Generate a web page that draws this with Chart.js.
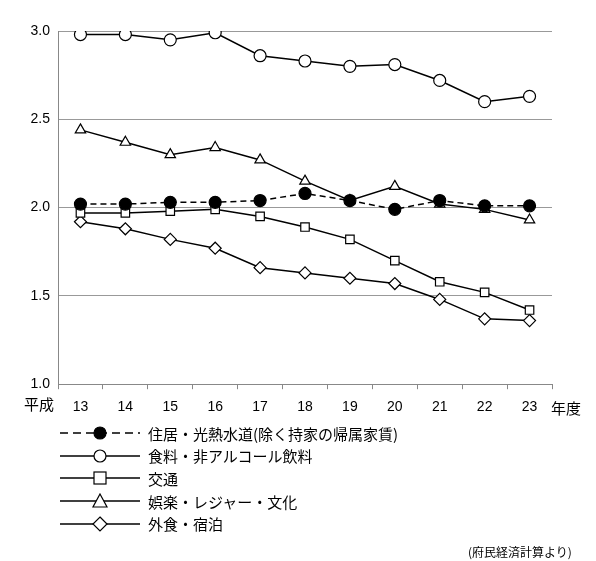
<!DOCTYPE html>
<html>
<head>
<meta charset="utf-8">
<script src="https://cdn.jsdelivr.net/npm/chart.js"></script>
<style>
  body { margin: 0; background: #fff; font-family: "Noto Sans CJK JP", sans-serif; }
  #wrap { position: relative; width: 596px; height: 561px; }
  #legend { position: absolute; left: 60px; top: 422px; font-size: 15px; color: #000; }
  #legend div { height: 22.6px; display: flex; align-items: center; }
  #legend svg { margin-right: 8px; }
  .lab { position: absolute; font-size: 15px; color: #000; }
</style>
</head>
<body>
<div id="wrap">
  <canvas id="c" width="596" height="561"></canvas>
  <div class="lab" style="left:24px;top:393px;">平成</div>
  <div class="lab" style="left:551px;top:397px;">年度</div>
  <div id="legend"></div>
  <div class="lab" style="left:468px;top:543px;font-size:12px;">(府民経済計算より)</div>
</div>
<script>
  // data
  var years = ['13', '14', '15', '16', '17', '18', '19', '20', '21', '22', '23'];
  var housing = [2.02, 2.02, 2.03, 2.03, 2.04, 2.08, 2.04, 1.99, 2.04, 2.01, 2.01];
  var food = [2.98, 2.98, 2.95, 2.99, 2.86, 2.83, 2.80, 2.81, 2.72, 2.60, 2.63];
  var transport = [1.97, 1.97, 1.98, 1.99, 1.95, 1.89, 1.82, 1.70, 1.58, 1.52, 1.42];
  var leisure = [2.44, 2.37, 2.30, 2.34, 2.27, 2.15, 2.04, 2.12, 2.02, 1.99, 1.93];
  var eatingOut = [1.92, 1.88, 1.82, 1.77, 1.66, 1.63, 1.60, 1.57, 1.48, 1.37, 1.36];
  var yTicks = [1.0, 1.5, 2.0, 2.5, 3.0];

  var series = [
    { label: '住居・光熱水道(除く持家の帰属家賃)', data: housing, style: 'circle', fill: '#000', dash: [6, 4] },
    { label: '食料・非アルコール飲料', data: food, style: 'circle', fill: '#fff', dash: [] },
    { label: '交通', data: transport, style: 'rect', fill: '#fff', dash: [] },
    { label: '娯楽・レジャー・文化', data: leisure, style: 'triangle', fill: '#fff', dash: [] },
    { label: '外食・宿泊', data: eatingOut, style: 'rectRot', fill: '#fff', dash: [] }
  ];

  new Chart(document.getElementById('c'), {
    type: 'line',
    data: {
      labels: years,
      datasets: series.map(function (s) {
        return {
          label: s.label, data: s.data,
          borderColor: '#000', borderWidth: 1.5, borderDash: s.dash,
          pointStyle: s.style, pointRadius: 6,
          pointBackgroundColor: s.fill, pointBorderColor: '#000', pointBorderWidth: 1.2,
          tension: 0
        };
      })
    },
    options: {
      responsive: false, animation: false,
      layout: { padding: { left: 14, right: 44, top: 31, bottom: 135 } },
      plugins: { legend: { display: false }, tooltip: { enabled: false } },
      scales: {
        x: {
          offset: true,
          grid: { display: true, drawOnChartArea: false, drawTicks: true, tickLength: 5, color: '#888', offset: true },
          border: { color: '#888' },
          ticks: { color: '#000', font: { size: 14 }, padding: 10 }
        },
        y: {
          min: 1.0, max: 3.0,
          afterBuildTicks: function (a) { a.ticks = yTicks.map(function (v) { return { value: v }; }); },
          afterFit: function (a) { a.width = 44; },
          grid: { color: '#999', drawTicks: false },
          border: { color: '#888' },
          ticks: { color: '#000', font: { size: 14 }, padding: 8, callback: function (v) { return v.toFixed(1); } }
        }
      }
    }
  });

  var shapes = {
    circle: function (f) { return '<circle cx="40" cy="8" r="6" fill="' + f + '" stroke="#000" stroke-width="1.2"/>'; },
    rect: function (f) { return '<rect x="34" y="2" width="12" height="12" fill="' + f + '" stroke="#000" stroke-width="1.2"/>'; },
    triangle: function (f) { return '<polygon points="40,1 47,14 33,14" fill="' + f + '" stroke="#000" stroke-width="1.2"/>'; },
    rectRot: function (f) { return '<polygon points="40,1 47,8 40,15 33,8" fill="' + f + '" stroke="#000" stroke-width="1.2"/>'; }
  };
  var html = '';
  series.forEach(function (s) {
    html += '<div><svg width="80" height="16"><line x1="0" y1="8" x2="80" y2="8" stroke="#000" stroke-width="1.5"' +
      (s.dash.length ? ' stroke-dasharray="8,5"' : '') + '/>' + shapes[s.style](s.fill) + '</svg>' + s.label + '</div>';
  });
  document.getElementById('legend').innerHTML = html;
</script>
</body>
</html>
